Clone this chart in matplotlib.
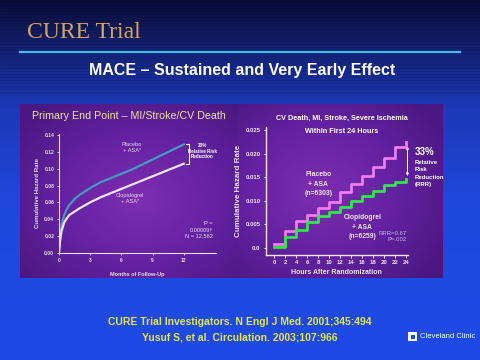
import numpy as np
import matplotlib.pyplot as plt
from matplotlib.colors import LinearSegmentedColormap
from matplotlib.patches import Rectangle, FancyArrowPatch

# Datos
months = [0, 0.1, 0.25, 0.5, 0.75, 1, 1.5, 2, 3, 4, 5, 6, 7, 8, 9, 10, 11, 12]
placebo_12m = [0, 0.018, 0.033, 0.045, 0.052, 0.057, 0.064, 0.069, 0.077, 0.084,
               0.089, 0.094, 0.099, 0.105, 0.111, 0.117, 0.123, 0.129]
clopi_12m = [0, 0.014, 0.026, 0.036, 0.041, 0.045, 0.049, 0.053, 0.060, 0.066,
             0.071, 0.076, 0.081, 0.086, 0.091, 0.096, 0.101, 0.106]

hours = [0, 2, 4, 6, 8, 10, 12, 14, 16, 18, 20, 22, 24]
placebo_24h = [0.0008, 0.0036, 0.0058, 0.0071, 0.0085, 0.0098, 0.0118, 0.0135,
               0.0153, 0.0172, 0.0192, 0.0215, 0.0225]
clopi_24h = [0.0003, 0.0024, 0.0039, 0.0056, 0.0067, 0.0076, 0.0087, 0.0099,
             0.0111, 0.0122, 0.0133, 0.0140, 0.0146]

yt_left = [0, 0.02, 0.04, 0.06, 0.08, 0.10, 0.12, 0.14]
yt_left_lab = ["0.00", "0.02", "0.04", "0.06", "0.08", "0.10", "0.12", "0.14"]
xt_left = [0, 3, 6, 9, 12]
yt_right = [0, 0.005, 0.010, 0.015, 0.020, 0.025]
yt_right_lab = ["0.0", "0.005", "0.010", "0.015", "0.020", "0.025"]

NF = ["Liberation Sans", "DejaVu Sans"]

W, H = 480, 360
fig = plt.figure(figsize=(4.8, 3.6), dpi=100)


def fx(x):
    return x / W


def fy(y):
    return 1 - y / H


def rect(x0, y0, x1, y1):
    return [fx(x0), fy(y1), fx(x1 - x0), (y1 - y0) / H]


# Fondo de la diapositiva
bg = fig.add_axes([0, 0, 1, 1])
cm_bg = LinearSegmentedColormap.from_list(
    "bg", [(0, "#090d38"), (0.12, "#131f6c"), (0.3, "#1b39b8"),
           (0.55, "#1f47da"), (1, "#1f4ae8")])
grad = np.linspace(0, 1, 256).reshape(-1, 1)
bg.imshow(grad, cmap=cm_bg, aspect="auto", extent=[0, W, H, 0])
for yy in np.arange(2, 95, 3):
    bg.hlines(yy, 0, W, color="#000020", alpha=0.12, lw=0.6)
bg.set_xlim(0, W)
bg.set_ylim(H, 0)
bg.axis("off")
bg.plot([20, 460], [51.7, 51.7], color="#3fbde8", lw=1.6)

fig.text(fx(27), fy(33), "CURE Trial", family="Liberation Serif", fontsize=17,
         color="#d8a45c", va="center", ha="left")
fig.text(fx(242), fy(71), "MACE \u2013 Sustained and Very Early Effect",
         family="Liberation Sans", fontweight="bold", fontsize=11.5,
         color="white", va="center", ha="center")

# Paneles morados
yy, xx = np.mgrid[-1:1:120j, -1:1:160j]
for (x0, y0, x1, y1), cx, cy in [((20, 104, 238, 278), 0.1, 0.1),
                                 ((238, 104, 443, 278), -0.2, 0.0)]:
    pa = fig.add_axes(rect(x0, y0, x1, y1))
    r = np.sqrt((xx - cx) ** 2 + (yy - cy) ** 2)
    cm_p = LinearSegmentedColormap.from_list(
        "p", ["#7e2eb0", "#6522a2", "#4b1882"])
    pa.imshow(np.clip(r / 1.4, 0, 1), cmap=cm_p, aspect="auto")
    pa.axis("off")

fig.text(fx(32), fy(116), "Primary End Point \u2013 MI/Stroke/CV Death",
         fontsize=7.65, color="#ece79a", va="center", ha="left", family=NF)

# Grafica izquierda: 12 meses
ax1 = fig.add_axes(rect(59, 133.5, 216, 252.7))
ax1.set_facecolor("none")
ax1.plot(months, placebo_12m, color="#4598c4", lw=1.6)
ax1.plot(months, clopi_12m, color="#f2e4f8", lw=1.6)
ax1.set_xlim(0, 15.1)
ax1.set_ylim(0, 0.142)
ax1.set_xticks(xt_left)
ax1.set_yticks(yt_left, yt_left_lab)
for s in ["top", "right"]:
    ax1.spines[s].set_visible(False)
for s in ["left", "bottom"]:
    ax1.spines[s].set_color("#e8dcf0")
    ax1.spines[s].set_linewidth(0.8)
ax1.tick_params(colors="#e8dcf0", labelsize=3.6, length=1.5, width=0.6,
                pad=2)
for lab in ax1.get_xticklabels() + ax1.get_yticklabels():
    lab.set_family(NF)
    lab.set_fontweight("bold")
ax1.set_ylabel("Cumulative Hazard Rate", fontsize=4.4, color="#e8dcf0",
               fontweight="bold", labelpad=3, family=NF)
ax1.set_xlabel("Months of Follow-Up", fontsize=4.0, color="#e8dcf0",
               fontweight="bold", labelpad=7, family=NF)
ax1.text(7.0, 0.125, "Placebo\n+ ASA*", fontsize=4.1, color="#e8dcf0",
         ha="center", va="center", family=NF)
ax1.text(6.8, 0.065, "Clopidogrel\n+ ASA*", fontsize=4.1, color="#e8dcf0",
         ha="center", va="center", family=NF)
ax1.plot([12.2, 12.5, 12.5, 12.2], [0.130, 0.130, 0.106, 0.106],
         color="white", lw=0.8, clip_on=False)
ax1.text(13.8, 0.121, "20%\nRelative Risk\nReduction", fontsize=3.3,
         color="white", fontweight="bold", ha="center", va="center",
         linespacing=1.1, family=NF)
ax1.text(14.8, 0.027, "P =\n0.00009\u2020\nN = 12,562", fontsize=4.1,
         color="#e8dcf0", ha="right", va="center", linespacing=1.3,
         family=NF)

# Grafica derecha: 24 horas
ax2 = fig.add_axes(rect(265.7, 127, 408, 255))
ax2.set_facecolor("none")
ax2.step(hours, placebo_24h, where="post", color="#ee7cf2", lw=2)
ax2.step(hours, clopi_24h, where="post", color="#30e848", lw=2)
ax2.set_xlim(-1.56, 24.3)
ax2.set_ylim(-0.0015, 0.0257)
ax2.set_xticks(hours)
ax2.set_yticks(yt_right, yt_right_lab)
for s in ["top", "right"]:
    ax2.spines[s].set_visible(False)
for s in ["left", "bottom"]:
    ax2.spines[s].set_color("#f0e6f8")
    ax2.spines[s].set_linewidth(1.0)
ax2.tick_params(colors="#f0e6f8", labelsize=4.3, length=1.8, width=0.7,
                pad=2)
for lab in ax2.get_xticklabels() + ax2.get_yticklabels():
    lab.set_fontweight("bold")
    lab.set_family(NF)
ax2.set_ylabel("Cumulative Hazard Rate", fontsize=5.8, color="#f0e6f8",
               fontweight="bold", labelpad=2.5, family=NF)
ax2.set_xlabel("Hours After Randomization", fontsize=5.0,
               color="#f0e6f8", fontweight="bold", labelpad=2.5, family=NF)
ax2.text(8.0, 0.0135, "Placebo\n+ ASA\n(n=6303)", fontsize=4.9,
         color="#f0e6f8", ha="center", va="center", fontweight="bold",
         linespacing=1.5, family=NF)
ax2.text(16.0, 0.0044, "Clopidogrel\n+ ASA\n(n=6259)", fontsize=4.9,
         color="#f0e6f8", ha="center", va="center", fontweight="bold",
         linespacing=1.5, family=NF)
ax2.text(24.0, 0.0024, "RRR=0.67\nP=.002", fontsize=4.3, color="#c8b4e8",
         ha="right", va="center", linespacing=1.3, family=NF)
arr = FancyArrowPatch((24.2, 0.0147), (24.2, 0.0222), arrowstyle="<|-|>",
                      mutation_scale=3.5, color="white", lw=0.7,
                      clip_on=False)
ax2.add_patch(arr)
fig.text(fx(342), fy(118), "CV Death, MI, Stroke, Severe Ischemia",
         fontsize=5.2, color="white", fontweight="bold", ha="center",
         va="center", family=NF)
fig.text(fx(342), fy(131.5), "Within First 24 Hours", fontsize=5.2,
         color="white", fontweight="bold", ha="center", va="center",
         family=NF)
fig.text(fx(415), fy(152), "33%", fontsize=7, color="white",
         fontweight="bold", ha="left", va="center", family=NF)
fig.text(fx(415), fy(173.5), "Relative\nRisk\nReduction\n(RRR)",
         fontsize=4.3, color="white", fontweight="bold", ha="left",
         va="center", linespacing=1.6, family=NF)

# Referencias
fig.text(fx(240), fy(322), "CURE Trial Investigators. N Engl J Med. 2001;345:494",
         fontsize=7.5, color="#e6e840", fontweight="bold", ha="center",
         va="center", family=NF)
fig.text(fx(240), fy(337), "Yusuf S, et al. Circulation. 2003;107:966",
         fontsize=7.5, color="#e6e840", fontweight="bold", ha="center",
         va="center", family=NF)

# Logo
bg.add_patch(Rectangle((408, 332), 9, 9, facecolor="white", edgecolor="none"))
bg.add_patch(Rectangle((410.5, 334.5), 4, 4, facecolor="#1f4ae8",
                       edgecolor="none"))
fig.text(fx(420), fy(337), "Cleveland Clinic", fontsize=5.5, color="white",
         ha="left", va="center", family=NF)

fig.savefig("out.png", dpi=100)
